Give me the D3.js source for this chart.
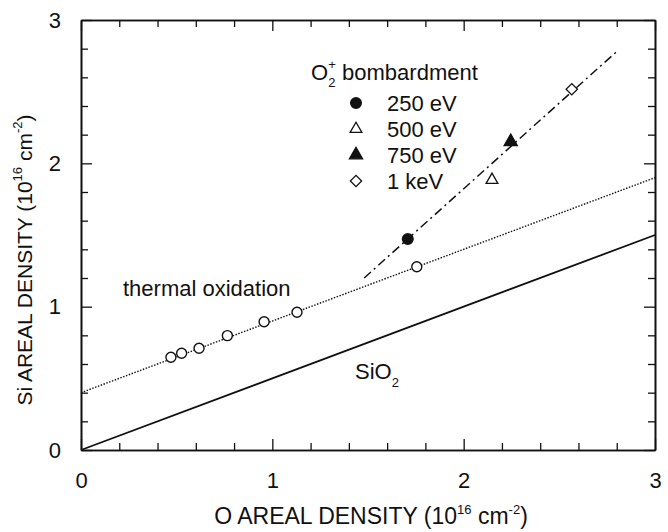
<!DOCTYPE html>
<html>
<head>
<meta charset="utf-8">
<script src="https://cdn.jsdelivr.net/npm/d3@7"></script>
<style>
  body { margin: 0; background: #fff; }
  text { font-family: "Liberation Sans", Arial, sans-serif; fill: #111; }
</style>
</head>
<body>
<div id="chart"></div>
<script>
// data (units of 10^16 cm^-2)
var thermalX = [0.47, 0.526, 0.617, 0.765, 0.957, 1.129, 1.755];
var thermalY = [0.647, 0.675, 0.710, 0.798, 0.895, 0.961, 1.279];

var bombLabels = ["250 eV", "500 eV", "750 eV", "1 keV"];
var bombSymbols = ["dotFilled", "triOpen", "triFilled", "diamondOpen"];
var bombX = [1.708, 2.148, 2.246, 2.565];
var bombY = [1.472, 1.884, 2.151, 2.517];

// fitted lines: [x0, x1] and y at those ends
var sio2X = [0, 3], sio2Y = [0, 1.5];
var thermalLineX = [0, 3], thermalLineY = [0.4, 1.9];
var bombLineX = [1.48, 2.8], bombLineY = [1.20, 2.78];

var majorTicks = [0, 1, 2, 3];

// set the dimensions and margins of the graph
var margin = {top: 20, right: 13, bottom: 82, left: 81},
    W = 668, H = 532,
    width = W - margin.left - margin.right,
    height = H - margin.top - margin.bottom;

var svg = d3.select("#chart")
  .append("svg")
    .attr("width", W)
    .attr("height", H)
  .append("g")
    .attr("transform", "translate(" + margin.left + "," + margin.top + ")");

var x = d3.scaleLinear().domain([0, 3]).range([0, width]);
var y = d3.scaleLinear().domain([0, 3]).range([height, 0]);

var minorTicks = d3.range(0, 3.01, 0.2).filter(function(v) {
  return Math.abs(v - Math.round(v)) > 0.01;
});

// axes: ticks pointing inwards on all four sides
function styleAxis(g) {
  g.selectAll("path").attr("stroke", "#111").attr("stroke-width", 1.6);
  g.selectAll("line").attr("stroke", "#111").attr("stroke-width", 1.3);
  g.selectAll("text").style("font-size", "22px");
}

svg.append("g")
  .attr("transform", "translate(0," + height + ")")
  .call(d3.axisBottom(x).tickValues(majorTicks).tickSizeInner(-11).tickSizeOuter(0).tickPadding(22).tickFormat(d3.format("d")))
  .call(styleAxis);
svg.append("g")
  .attr("transform", "translate(0," + height + ")")
  .call(d3.axisBottom(x).tickValues(minorTicks).tickSizeInner(-7).tickSizeOuter(0).tickFormat(""))
  .call(styleAxis);

svg.append("g")
  .call(d3.axisTop(x).tickValues(majorTicks).tickSizeInner(-11).tickSizeOuter(0).tickFormat(""))
  .call(styleAxis);
svg.append("g")
  .call(d3.axisTop(x).tickValues(minorTicks).tickSizeInner(-7).tickSizeOuter(0).tickFormat(""))
  .call(styleAxis);

svg.append("g")
  .call(d3.axisLeft(y).tickValues(majorTicks).tickSizeInner(-11).tickSizeOuter(0).tickPadding(20).tickFormat(d3.format("d")))
  .call(styleAxis);
svg.append("g")
  .call(d3.axisLeft(y).tickValues(minorTicks).tickSizeInner(-7).tickSizeOuter(0).tickFormat(""))
  .call(styleAxis);

svg.append("g")
  .attr("transform", "translate(" + width + ",0)")
  .call(d3.axisRight(y).tickValues(majorTicks).tickSizeInner(-11).tickSizeOuter(0).tickFormat(""))
  .call(styleAxis);
svg.append("g")
  .attr("transform", "translate(" + width + ",0)")
  .call(d3.axisRight(y).tickValues(minorTicks).tickSizeInner(-7).tickSizeOuter(0).tickFormat(""))
  .call(styleAxis);

// lines
var line = d3.line().x(function(d) { return x(d[0]); }).y(function(d) { return y(d[1]); });

svg.append("path")
  .datum(d3.zip(sio2X, sio2Y))
  .attr("d", line)
  .attr("fill", "none").attr("stroke", "#111").attr("stroke-width", 1.8);

svg.append("path")
  .datum(d3.zip(thermalLineX, thermalLineY))
  .attr("d", line)
  .attr("fill", "none").attr("stroke", "#111").attr("stroke-width", 1.4)
  .attr("stroke-dasharray", "1.5,1.5");

svg.append("path")
  .datum(d3.zip(bombLineX, bombLineY))
  .attr("d", line)
  .attr("fill", "none").attr("stroke", "#111").attr("stroke-width", 1.5)
  .attr("stroke-dasharray", "9,4,2,4");

// thermal oxidation points
svg.selectAll("circle.thermal")
  .data(d3.zip(thermalX, thermalY))
  .enter()
  .append("circle")
    .attr("class", "thermal")
    .attr("cx", function(d) { return x(d[0]); })
    .attr("cy", function(d) { return y(d[1]); })
    .attr("r", 5)
    .attr("fill", "#fff").attr("stroke", "#111").attr("stroke-width", 1.4);

// marker drawing
var symbolDef = {
  dotFilled:   {type: d3.symbolCircle,   size: 90,  fill: "#111"},
  triOpen:     {type: d3.symbolTriangle, size: 60,  fill: "#fff"},
  triFilled:   {type: d3.symbolTriangle, size: 75,  fill: "#111"},
  diamondOpen: {type: d3.symbolSquare,   size: 64,  fill: "#fff", rotate: 45}
};
function drawSymbol(g, kind, cx, cy) {
  var s = symbolDef[kind];
  g.append("path")
    .attr("d", d3.symbol().type(s.type).size(s.size))
    .attr("transform", "translate(" + cx + "," + cy + ")" + (s.rotate ? " rotate(" + s.rotate + ")" : ""))
    .attr("fill", s.fill).attr("stroke", "#111").attr("stroke-width", 1.3);
}

bombX.forEach(function(v, i) {
  drawSymbol(svg, bombSymbols[i], x(v), y(bombY[i]));
});

// legend
var lg = svg.append("g").attr("transform", "translate(" + (311 - margin.left) + "," + (80 - margin.top) + ")");
var lt = lg.append("text").style("font-size", "22px").attr("x", 0).attr("y", 0);
lt.append("tspan").text("O");
lt.append("tspan").text("2").style("font-size", "13px").attr("dy", 7);
lt.append("tspan").text("+").style("font-size", "13px").attr("dx", -7).attr("dy", -18);
lt.append("tspan").text(" bombardment").attr("dy", 11);

bombLabels.forEach(function(lab, i) {
  var yy = 26 * (i + 1) + 4;
  drawSymbol(lg, bombSymbols[i], 45, yy - 7);
  lg.append("text").style("font-size", "22px")
    .attr("x", 76).attr("y", yy + 1).text(lab);
});

// annotations
svg.append("text").style("font-size", "22px")
  .attr("x", 123 - margin.left).attr("y", 296 - margin.top)
  .text("thermal oxidation");

var st = svg.append("text").style("font-size", "22px")
  .attr("x", 355 - margin.left).attr("y", 379 - margin.top);
st.append("tspan").text("SiO");
st.append("tspan").text("2").style("font-size", "13px").attr("dy", 8);

// axis titles
var xt = svg.append("text").style("font-size", "23px")
  .attr("text-anchor", "middle")
  .attr("x", width / 2 + 3).attr("y", height + 74);
xt.append("tspan").text("O AREAL DENSITY (10");
xt.append("tspan").text("16").style("font-size", "13px").attr("dy", -10);
xt.append("tspan").text(" cm").attr("dy", 10);
xt.append("tspan").text("-2").style("font-size", "13px").attr("dy", -10);
xt.append("tspan").text(")").attr("dy", 10);

var yt = svg.append("text").style("font-size", "21px")
  .attr("text-anchor", "middle")
  .attr("transform", "rotate(-90)")
  .attr("x", -height / 2 - 25).attr("y", -margin.left + 32);
yt.append("tspan").text("Si AREAL DENSITY (10");
yt.append("tspan").text("16").style("font-size", "13px").attr("dy", -10);
yt.append("tspan").text(" cm").attr("dy", 10);
yt.append("tspan").text("-2").style("font-size", "13px").attr("dy", -10);
yt.append("tspan").text(")").attr("dy", 10);
</script>
</body>
</html>
